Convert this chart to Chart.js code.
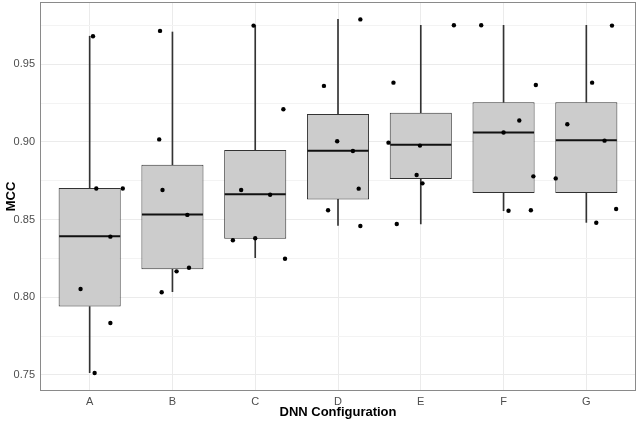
<!DOCTYPE html>
<html>
<head>
<meta charset="utf-8">
<script src="https://cdn.jsdelivr.net/npm/chart.js@4"></script>
<style>
  body { margin: 0; background: #fff; }
  #wrap { width: 638px; height: 423px; }
</style>
</head>
<body>
<div id="wrap"><canvas id="boxChart"></canvas></div>
<script>
// Data
const categories = ['A', 'B', 'C', 'D', 'E', 'F', 'G'];
const whiskerLow  = [0.7515, 0.8036, 0.8255, 0.8463, 0.8472, 0.8557, 0.8482];
const q1          = [0.7940, 0.8180, 0.8377, 0.8630, 0.8761, 0.8671, 0.8671];
const median      = [0.8393, 0.8532, 0.8663, 0.8943, 0.8982, 0.9060, 0.9010];
const q3          = [0.8703, 0.8853, 0.8948, 0.9180, 0.9188, 0.9255, 0.9255];
const whiskerHigh = [0.9680, 0.9707, 0.9748, 0.9789, 0.9750, 0.9750, 0.9750];

// individual runs per configuration, and their horizontal jitter
const runValues = [
    [0.968, 0.870, 0.870, 0.839, 0.8053, 0.7835, 0.7513],
    [0.9714, 0.9016, 0.869, 0.853, 0.819, 0.8167, 0.8032],
    [0.9748, 0.921, 0.869, 0.866, 0.8367, 0.838, 0.8248],
    [0.9788, 0.936, 0.9004, 0.8941, 0.8699, 0.856, 0.8459],
    [0.975, 0.9381, 0.8995, 0.8976, 0.8787, 0.8733, 0.8472],
    [0.975, 0.9366, 0.9138, 0.906, 0.8778, 0.8557, 0.856],
    [0.9748, 0.9381, 0.9113, 0.9008, 0.8765, 0.8568, 0.848]
];
const runJitter = [
    [0.04, 0.08, 0.40, 0.25, -0.11, 0.25, 0.06],
    [-0.15, -0.16, -0.12, 0.18, 0.20, 0.05, -0.13],
    [-0.02, 0.34, -0.17, 0.18, -0.27, 0.00, 0.36],
    [0.27, -0.17, -0.01, 0.18, 0.25, -0.12, 0.27],
    [0.40, -0.33, -0.39, -0.01, -0.05, 0.02, -0.29],
    [-0.27, 0.39, 0.19, 0.00, 0.36, 0.06, 0.33],
    [0.31, 0.07, -0.23, 0.22, -0.37, 0.36, 0.12]
];

const yTicks = [0.75, 0.80, 0.85, 0.90, 0.95];

const fontFamily = '"Liberation Sans", Arial, sans-serif';

const lowerWhisker = categories.map((c, i) => ({ x: i + 1, y: [whiskerLow[i], q1[i]] }));
const upperWhisker = categories.map((c, i) => ({ x: i + 1, y: [q3[i], whiskerHigh[i]] }));
const boxes = categories.map((c, i) => ({ x: i + 1, y: [q1[i], q3[i]] }));
const medians = categories.map((c, i) => ({ x: i + 1, y: median[i] }));
const points = [];
runValues.forEach((vals, i) => {
    vals.forEach((v, j) => points.push({ x: i + 1 + runJitter[i][j], y: v }));
});

const isMajor = v => yTicks.some(t => Math.abs(t - v) < 1e-6);

// panel border like ggplot theme_bw
const panelBorder = {
    id: 'panelBorder',
    afterDraw(chart) {
        const { ctx, chartArea: a } = chart;
        ctx.save();
        ctx.strokeStyle = '#8a8a8a';
        ctx.lineWidth = 1;
        ctx.strokeRect(a.left + 0.5, a.top + 0.5, a.right - a.left - 1, a.bottom - a.top - 1);
        ctx.restore();
    }
};

const whiskerStyle = {
    type: 'bar',
    backgroundColor: '#333333',
    borderWidth: 0,
    barThickness: 1,
    grouped: false,
    order: 4
};

const boxChart = new Chart(document.getElementById('boxChart'), {
    type: 'bar',
    data: {
        datasets: [
            { ...whiskerStyle, label: 'lower whisker', data: lowerWhisker },
            { ...whiskerStyle, label: 'upper whisker', data: upperWhisker },
            {
                type: 'bar',
                label: 'IQR',
                data: boxes,
                backgroundColor: '#cccccc',
                borderColor: '#333333',
                borderWidth: 1,
                borderSkipped: false,
                inflateAmount: 0,
                categoryPercentage: 1,
                barPercentage: 0.75,
                grouped: false,
                order: 3
            },
            {
                type: 'scatter',
                label: 'median',
                data: medians,
                pointStyle: 'line',
                pointRadius: 30.5,
                pointBorderWidth: 2,
                borderColor: '#111111',
                order: 2
            },
            {
                type: 'scatter',
                label: 'runs',
                data: points,
                backgroundColor: '#000000',
                pointBorderWidth: 0,
                pointRadius: 2.2,
                order: 1
            }
        ]
    },
    options: {
        responsive: true,
        maintainAspectRatio: false,
        animation: false,
        layout: { autoPadding: false, padding: { top: 2, right: 2, left: 0, bottom: 0 } },
        plugins: {
            legend: { display: false },
            tooltip: { enabled: false }
        },
        scales: {
            x: {
                type: 'linear',
                min: 0.4,
                max: 7.6,
                offset: false,
                afterFit: s => {
                    s.height = 32;
                    s.paddingLeft = 0;
                    s.paddingRight = 0;
                },
                ticks: {
                    stepSize: 1,
                    includeBounds: false,
                    padding: 4,
                    color: '#4d4d4d',
                    font: { family: fontFamily, size: 11 },
                    callback: v => categories[v - 1] || ''
                },
                grid: { color: '#ebebeb', drawTicks: false, offset: false },
                border: { display: false },
                title: {
                    display: true,
                    text: 'DNN Configuration',
                    color: '#000',
                    padding: { top: 0, bottom: 3 },
                    font: { family: fontFamily, size: 13, weight: 'bold' }
                }
            },
            y: {
                min: 0.7397,
                max: 0.990,
                afterFit: s => {
                    s.width = 40;
                    s.paddingTop = 0;
                    s.paddingBottom = 0;
                },
                ticks: {
                    stepSize: 0.025,
                    includeBounds: false,
                    padding: 5,
                    color: '#4d4d4d',
                    font: { family: fontFamily, size: 11 },
                    callback: v => isMajor(v) ? v.toFixed(2) : ''
                },
                grid: {
                    drawTicks: false,
                    color: ctx => isMajor(ctx.tick.value) ? '#ebebeb' : '#f3f3f3',
                    lineWidth: 1
                },
                border: { display: false },
                title: {
                    display: true,
                    text: 'MCC',
                    color: '#000',
                    padding: { top: 4, bottom: 0 },
                    font: { family: fontFamily, size: 13, weight: 'bold' }
                }
            }
        }
    },
    plugins: [panelBorder]
});
</script>
</body>
</html>
